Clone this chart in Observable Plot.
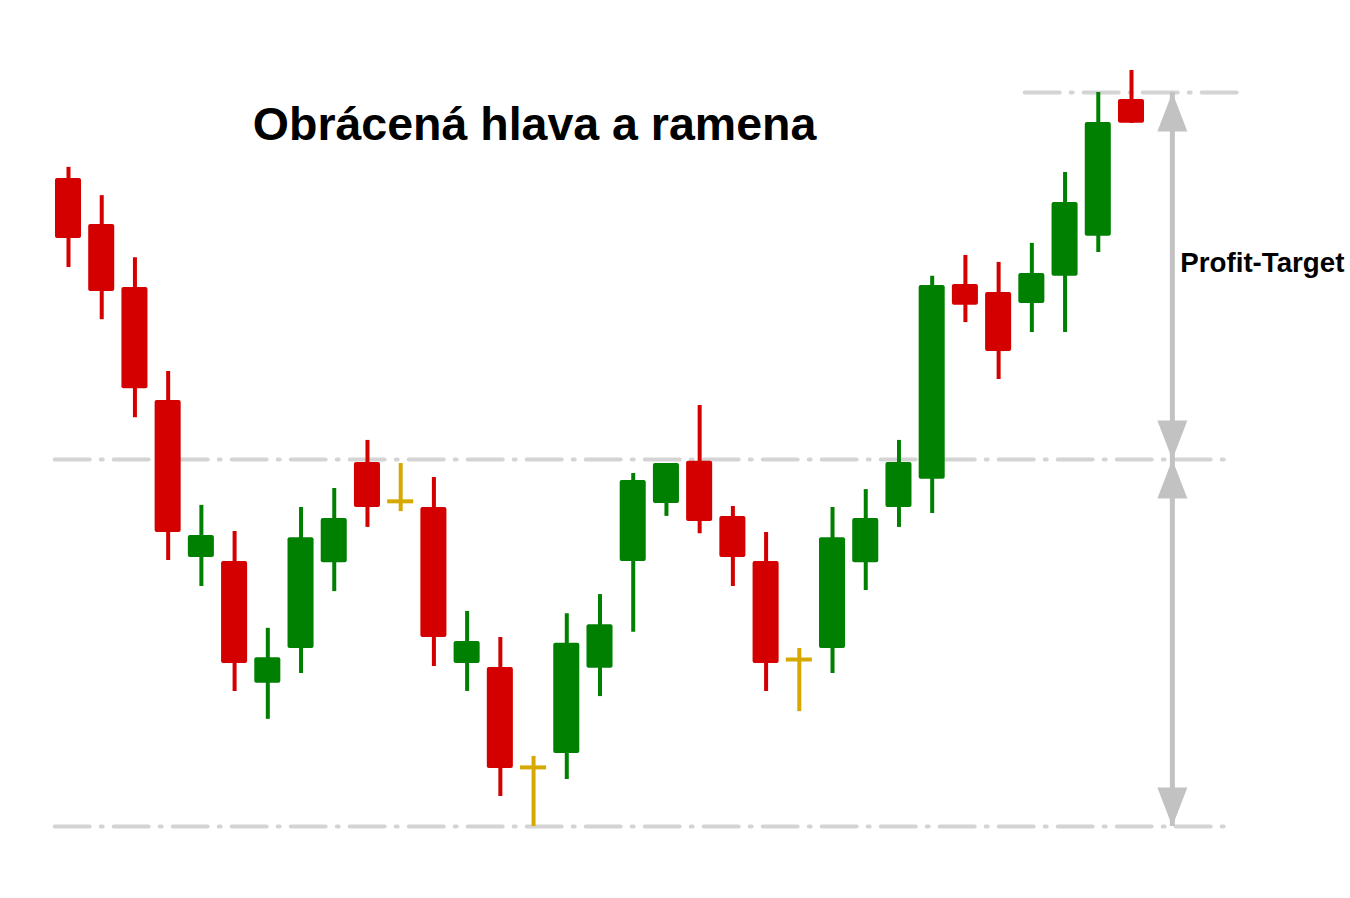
<!DOCTYPE html>
<html>
<head>
<meta charset="utf-8">
<script src="https://cdn.jsdelivr.net/npm/d3@7"></script>
<script src="https://cdn.jsdelivr.net/npm/@observablehq/plot@0.6"></script>
<style>
  html, body { margin: 0; padding: 0; background: #ffffff; }
  #chart svg { display: block; }
</style>
</head>
<body>
<div id="chart"></div>
<script>
// ---- Data ----
const titleText = "Obrácená hlava a ramena";
const targetLabel = "Profit-Target";

const opens  = [276.6, 264.0, 246.9, 216.1, 173.3, 172.2, 139.0, 148.5, 171.9, 199.2, 188.6,
                186.9, 144.4, 143.3, 116.1, 119.9, 143.1, 172.2, 188.0, 199.5, 184.5, 172.2,
                145.5, 148.5, 171.9, 186.9, 194.6, 247.7, 245.5, 242.5, 249.9, 260.8, 298.1];
const highs  = [279.6, 271.9, 255.0, 224.0, 187.5, 180.4, 154.0, 186.9, 192.1, 205.2, 198.9,
                195.1, 158.6, 151.5, 119.1, 158.0, 163.2, 196.2, 198.9, 214.7, 187.2, 180.1,
                148.5, 186.9, 191.8, 205.2, 249.9, 255.6, 253.7, 258.9, 278.2, 300.0, 306.0];
const lows   = [252.3, 238.1, 211.4, 172.5, 165.4, 136.8, 129.2, 141.7, 164.0, 181.5, 185.8,
                143.6, 136.8, 108.2, 100.0, 112.8, 135.4, 152.9, 184.5, 179.8, 165.4, 136.8,
                131.3, 141.7, 164.3, 181.5, 185.3, 237.3, 221.8, 234.6, 234.6, 256.4, 291.6];
const closes = [260.2, 245.8, 219.3, 180.1, 179.3, 144.4, 146.0, 178.7, 183.9, 186.9, 188.6,
                151.5, 150.4, 115.8, 116.1, 149.9, 155.0, 194.3, 198.9, 183.1, 173.3, 144.4,
                145.5, 178.7, 183.9, 199.2, 247.4, 242.0, 229.4, 250.7, 270.0, 291.8, 291.6];

// Dash-dot levels: price, start candle position, end candle position
const levelPrices = [100, 200, 300];
const levelFrom   = [0.6, 0.6, 29.8];
const levelTo     = [35.9, 35.9, 36.45];

// Measured-move arrows: x position (candle units), from price, to price
const arrowX = 34.23;
const arrowFrom = [200, 200];
const arrowTo   = [300, 100];

// ---- Build tables ----
const candles = opens.map((o, k) => ({
  i: k + 1, open: o, high: highs[k], low: lows[k], close: closes[k],
  kind: closes[k] > o ? "up" : closes[k] < o ? "down" : "doji"
}));
const bodies = candles.filter(d => d.kind !== "doji");
const dojis = candles.filter(d => d.kind === "doji");
const levels = levelPrices.map((p, k) => ({price: p, x1: levelFrom[k], x2: levelTo[k]}));
const shafts = arrowFrom.map((f, k) => ({x: arrowX, y1: f, y2: arrowTo[k]}));
const heads = [];
shafts.forEach(s => {
  const up = s.y2 > s.y1;
  heads.push({x: s.x, y: s.y2, rot: up ? 0 : 180});
  heads.push({x: s.x, y: s.y1, rot: up ? 180 : 0});
});

const colors = {up: "#008000", down: "#d40000", doji: "#d6a900"};
const half = 0.392; // half body width in candle units

// Arrow head symbol: tip at origin, pointing up
const headSymbol = {
  draw(ctx) {
    ctx.moveTo(0, 0);
    ctx.lineTo(15, 39);
    ctx.lineTo(-15, 39);
    ctx.closePath();
  }
};

const chart = Plot.plot({
  width: 1350,
  height: 898,
  marginTop: 0, marginRight: 0, marginBottom: 0, marginLeft: 0,
  style: {background: "#ffffff", fontFamily: "'Liberation Sans', Arial, sans-serif"},
  x: {type: "linear", domain: [1, 33], range: [68, 1131], axis: null},
  y: {type: "linear", domain: [100, 300], range: [826, 92], axis: null},
  marks: [
    Plot.ruleY(levels, {
      y: "price", x1: "x1", x2: "x2",
      stroke: "#d4d4d4", strokeWidth: 4, strokeLinecap: "round",
      strokeDasharray: "35,11,2,11"
    }),
    Plot.ruleX(shafts, {x: "x", y1: "y1", y2: "y2", stroke: "#c2c2c2", strokeWidth: 5}),
    Plot.dot(heads, {x: "x", y: "y", rotate: "rot", symbol: headSymbol, fill: "#c2c2c2", stroke: "none"}),
    Plot.ruleX(candles, {
      x: "i", y1: "low", y2: "high",
      stroke: d => colors[d.kind], strokeWidth: 4
    }),
    Plot.rect(bodies, {
      x1: d => d.i - half, x2: d => d.i + half,
      y1: "open", y2: "close",
      fill: d => colors[d.kind], rx: 2
    }),
    Plot.ruleY(dojis, {
      y: "open", x1: d => d.i - half, x2: d => d.i + half,
      stroke: colors.doji, strokeWidth: 4
    }),
    Plot.text([titleText], {
      x: 15.03, y: 291.0, text: d => d,
      fontSize: 46.5, fontWeight: "bold", fill: "#000000", textAnchor: "middle"
    }),
    Plot.text([targetLabel], {
      x: 34.47, y: 253.4, text: d => d,
      fontSize: 27.7, fontWeight: "bold", fill: "#000000", textAnchor: "start"
    })
  ]
});
document.getElementById("chart").appendChild(chart);
</script>
</body>
</html>
